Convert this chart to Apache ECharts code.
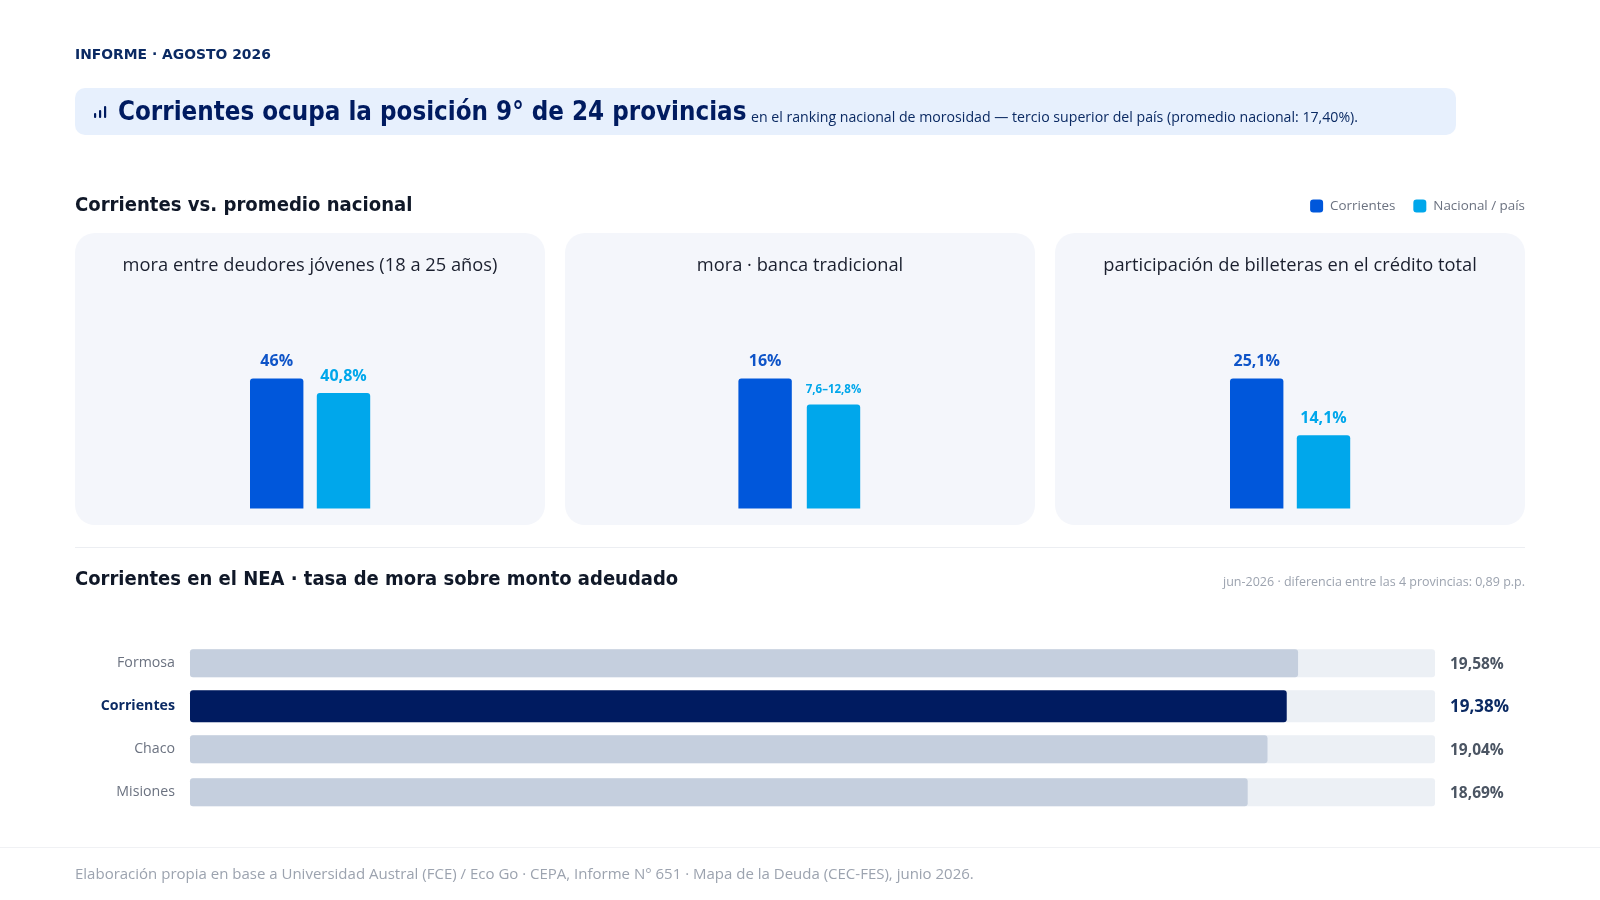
<!DOCTYPE html>
<html><head><meta charset="utf-8">
<script src="https://cdn.jsdelivr.net/npm/echarts@6/dist/echarts.min.js"></script>
<style>html,body{margin:0;padding:0;background:#fff}#c{width:1600px;height:900px}</style></head>
<body><div id="c"></div>
<script>
const kicker = 'INFORME · AGOSTO 2026';
const headline = 'Corrientes ocupa la posición 9° de 24 provincias';
const headlineNote = 'en el ranking nacional de morosidad — tercio superior del país (promedio nacional: 17,40%).';
const sectionOne = 'Corrientes vs. promedio nacional';
const sectionTwo = 'Corrientes en el NEA · tasa de mora sobre monto adeudado';
const sectionTwoNote = 'jun-2026 · diferencia entre las 4 provincias: 0,89 p.p.';
const footer = 'Elaboración propia en base a Universidad Austral (FCE) / Eco Go · CEPA, Informe N° 651 · Mapa de la Deuda (CEC-FES), junio 2026.';
const panelTitles = ['mora entre deudores jóvenes (18 a 25 años)', 'mora · banca tradicional', 'participación de billeteras en el crédito total'];
const corrientesValues = [46, 16, 25.1];
const nacionalValues = [40.8, 12.8, 14.1];
const corrientesLabels = ['46%', '16%', '25,1%'];
const nacionalLabels = ['40,8%', '7,6–12,8%', '14,1%'];
const provinces = ['Formosa', 'Corrientes', 'Chaco', 'Misiones'];
const rates = [19.58, 19.38, 19.04, 18.69];
const rateLabels = ['19,58%', '19,38%', '19,04%', '18,69%'];
const rateScaleMax = 22;

const HEAD = '"DejaVu Sans Condensed","DejaVu Sans",sans-serif';
const BODY = '"Open Sans","Noto Sans",sans-serif';
const NAVY = '#0B2A63', BLUE = '#0057DB', CYAN = '#00A7EB', DARK = '#001B60';

const cardX = [75, 565, 1055];
const grids = [], xAxes = [], yAxes = [], series = [];
const groupLeft = [250, 738.4, 1230];
const groupGap = [13.4, 15, 13.4];
const BW = 53.4;
cardX.forEach((x, i) => {
  const w = BW * 2 + groupGap[i];
  grids.push({ left: groupLeft[i], top: 378.4, width: w, height: 130 });
  xAxes.push({ type: 'category', gridIndex: i, data: [panelTitles[i]], show: false });
  yAxes.push({ type: 'value', gridIndex: i, min: 0, max: corrientesValues[i], show: false });
  const lab = (color, size, text) => ({ show: true, position: 'top', distance: 8.5, formatter: text, color, fontFamily: BODY, fontWeight: 700, fontSize: size });
  series.push({ type: 'bar', name: 'Corrientes', xAxisIndex: i, yAxisIndex: i, data: [corrientesValues[i]], barWidth: BW, barGap: (groupGap[i] / BW * 100) + '%',
    itemStyle: { color: BLUE, borderRadius: [3, 3, 0, 0] }, label: lab('#0E54C8', 16, corrientesLabels[i]) });
  series.push({ type: 'bar', name: 'Nacional / país', xAxisIndex: i, yAxisIndex: i, data: [nacionalValues[i]], barWidth: BW,
    itemStyle: { color: CYAN, borderRadius: [3, 3, 0, 0] }, label: lab(CYAN, i === 1 ? 11.5 : 16, nacionalLabels[i]) });
});

// horizontal ranking
const rg = grids.length;
grids.push({ left: 190, top: 641.7, width: 1245, height: 172 });
xAxes.push({ type: 'value', gridIndex: rg, min: 0, max: rateScaleMax, show: false });
yAxes.push({ type: 'category', gridIndex: rg, inverse: true, data: provinces,
  axisLine: { show: false }, axisTick: { show: false },
  axisLabel: { margin: 15, fontFamily: BODY, fontSize: 14.2,
    formatter: v => v === 'Corrientes' ? '{hi|' + v + '}' : '{lo|' + v + '}',
    rich: { hi: { color: NAVY, fontWeight: 700, fontFamily: BODY, fontSize: 14.2 }, lo: { color: '#6B7280', fontFamily: BODY, fontSize: 14.2 } } } });
const rx = grids.length;
grids.push({ left: 190, top: 641.7, width: 1245, height: 172 });
xAxes.push({ type: 'value', gridIndex: rx, min: 0, max: rateScaleMax, show: false });
yAxes.push({ type: 'category', gridIndex: rx, inverse: true, data: provinces, show: false });
const only = (fn) => provinces.map((p, i) => fn(p, i));
const trackLabel = {
  show: true, position: 'right', distance: 15, offset: [0, 1], fontFamily: BODY, fontWeight: 700,
  formatter: p => rateLabels[p.dataIndex]
};
series.push({ type: 'bar', name: 'Escala', xAxisIndex: rg, yAxisIndex: rg, barWidth: 28, barGap: '-100%',
  data: only(p => p === 'Corrientes' ? null : rateScaleMax), silent: true,
  itemStyle: { color: '#ECF0F5', borderRadius: 3 }, label: Object.assign({ color: '#4B5563', fontSize: 15.5 }, trackLabel) });
series.push({ type: 'bar', name: 'Mora', xAxisIndex: rg, yAxisIndex: rg, barWidth: 28,
  data: only((p, i) => p === 'Corrientes' ? null : rates[i]),
  itemStyle: { color: '#C5CFDE', borderRadius: 3 } });
series.push({ type: 'bar', name: 'Escala', xAxisIndex: rx, yAxisIndex: rx, barWidth: 32, barGap: '-100%',
  data: only(p => p === 'Corrientes' ? rateScaleMax : null), silent: true,
  itemStyle: { color: '#ECF0F5', borderRadius: 3 }, label: Object.assign({ color: NAVY, fontSize: 17 }, trackLabel) });
series.push({ type: 'bar', name: 'Mora', xAxisIndex: rx, yAxisIndex: rx, barWidth: 32,
  data: only((p, i) => p === 'Corrientes' ? rates[i] : null),
  itemStyle: { color: DARK, borderRadius: 3 } });

const t = (text, left, top, style, extra) => Object.assign({ text, left, top, padding: 0, textStyle: Object.assign({ fontFamily: BODY }, style) }, extra || {});
const titles = [
  t(kicker, 75, 48, { fontFamily: '"DejaVu Sans",sans-serif', fontWeight: 700, fontSize: 13.9, color: NAVY }),
  t(headline, 118, 100.5, { fontFamily: HEAD, fontWeight: 700, fontSize: 25.7, color: DARK }),
  t(headlineNote, 751, 110.5, { fontWeight: 400, fontSize: 14.15, color: NAVY }),
  t(sectionOne, 75, 195.5, { fontFamily: HEAD, fontWeight: 700, fontSize: 20.1, color: '#101828' }),
  t(sectionTwo, 75, 570, { fontFamily: HEAD, fontWeight: 700, fontSize: 20, color: '#101828' }),
  t(sectionTwoNote, 'auto', 575.5, { fontWeight: 400, fontSize: 12.5, color: '#9CA3AF' }, { right: 75, left: undefined }),
  t(footer, 75, 867, { fontWeight: 400, fontSize: 15, color: '#9CA3AF' })
];
panelTitles.forEach((p, i) => {
  titles.push({ text: p, left: cardX[i] + 235, top: 257, textAlign: 'center', padding: 0, textStyle: { fontFamily: BODY, fontWeight: 400, fontSize: 18.3, color: '#1A1F2E' } });
});

const rect = (x, y, w, h, r, fill) => ({ type: 'rect', z: -10, silent: true, shape: { x, y, width: w, height: h, r }, style: { fill } });
const graphic = [
  rect(75, 88, 1381, 47, 10, '#E7F0FD'),
  rect(94, 113, 2.2, 5, 1, DARK), rect(99, 110, 2.2, 8, 1, DARK), rect(104, 106, 2.2, 12, 1, DARK)
];
cardX.forEach(x => graphic.push(rect(x, 233, 470, 292, 20, '#F4F6FB')));
graphic.push(rect(75, 547, 1450, 1, 0, '#ECEEF2'));
graphic.push(rect(0, 847, 1600, 1, 0, '#F0F1F4'));

const chart = echarts.init(document.getElementById('c'));
chart.setOption({
  animation: false, backgroundColor: '#fff',
  title: titles,
  legend: { data: ['Corrientes', 'Nacional / país'], right: 75, top: 199.5, itemWidth: 13, itemHeight: 13, itemGap: 18, icon: 'roundRect', padding: 0,
    textStyle: { fontFamily: BODY, fontSize: 13.4, color: '#6B7280', padding: [1, 0, 0, 2] } },
  graphic: { elements: graphic },
  grid: grids, xAxis: xAxes, yAxis: yAxes, series
});
</script></body></html>
